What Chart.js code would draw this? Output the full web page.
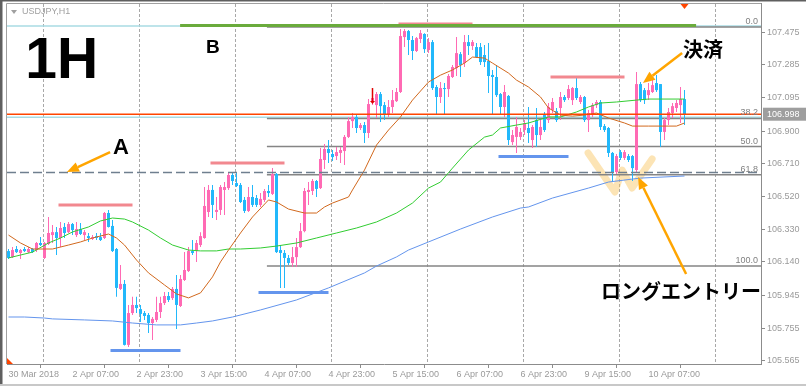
<!DOCTYPE html>
<html><head><meta charset="utf-8">
<script src="https://cdn.jsdelivr.net/npm/chart.js@4.4.1/dist/chart.umd.min.js"></script>
<style>html,body{margin:0;padding:0;background:#fff;overflow:hidden}canvas{display:block}</style>
</head><body>
<canvas id="chart" width="806" height="386"></canvas>
<script>
// ---------- DATA (USDJPY H1) ----------
const xTickIdx  = [0,16,32,48,64,80,96,112,128,144,160];
const xTickText = ['30 Mar 2018','2 Apr 07:00','2 Apr 23:00','3 Apr 15:00','4 Apr 07:00','4 Apr 23:00','5 Apr 15:00','6 Apr 07:00','6 Apr 23:00','9 Apr 15:00','10 Apr 07:00'];
const yTicks = [105.565,105.755,105.945,106.140,106.330,106.520,106.710,106.900,107.095,107.285,107.475];

const openP = [
106.203,106.168,106.215,106.192,106.215,106.197,106.215,106.209,106.250,106.163,
106.244,106.296,106.313,106.279,106.343,106.313,106.360,106.296,106.331,106.296,
106.290,106.273,106.290,106.284,106.279,106.424,106.349,106.215,105.983,106.012,
105.658,105.843,105.890,105.866,105.843,105.832,105.785,105.803,105.849,105.901,
105.942,105.930,105.983,105.884,106.035,106.087,106.203,106.203,106.238,106.279,
106.430,106.558,106.430,106.442,106.558,106.569,106.645,106.598,106.587,106.500,
106.436,106.517,106.511,106.471,106.500,106.552,106.535,106.651,106.209,106.192,
106.163,106.134,106.168,106.226,106.319,106.546,106.552,106.610,106.569,106.732,
106.796,106.767,106.755,106.773,106.784,106.866,106.958,106.982,106.918,106.935,
106.889,107.074,107.051,107.115,107.051,106.999,107.040,107.074,107.127,107.446,
107.481,107.429,107.365,107.435,107.464,107.371,107.417,107.156,107.098,107.150,
107.144,107.214,107.266,107.347,107.295,107.417,107.394,107.388,107.388,107.342,
107.307,107.226,107.214,107.115,107.040,107.104,106.836,106.866,106.866,106.906,
106.918,106.848,106.964,106.877,106.993,106.964,107.022,107.016,107.034,107.098,
107.092,107.080,107.150,107.069,107.098,106.964,106.993,107.051,107.069,106.929,
106.918,106.773,106.662,106.778,106.744,106.755,106.755,106.674,107.173,107.138,
107.109,107.127,107.179,107.173,106.895,106.964,107.005,107.034,107.051,107.086];
const highP = [
106.215,106.226,106.232,106.215,106.226,106.226,106.221,106.255,106.284,106.255,
106.401,106.355,106.343,106.372,106.366,106.372,106.366,106.372,106.366,106.325,
106.308,106.296,106.308,106.308,106.430,106.442,106.384,106.221,106.122,106.035,
105.890,105.937,105.937,105.890,105.855,105.843,105.820,105.937,105.937,105.965,
105.965,105.994,106.064,106.064,106.197,106.226,106.267,106.267,106.313,106.575,
106.587,106.587,106.517,106.587,106.604,106.656,106.662,106.662,106.598,106.517,
106.575,106.587,106.529,106.540,106.564,106.587,106.685,106.656,106.238,106.209,
106.180,106.226,106.279,106.366,106.569,106.604,106.622,106.616,106.802,106.825,
106.848,106.790,106.807,106.807,106.877,106.982,107.005,106.993,106.947,106.953,
107.086,107.109,107.127,107.127,107.069,107.080,107.138,107.150,107.493,107.493,
107.487,107.452,107.446,107.487,107.469,107.440,107.429,107.167,107.185,107.179,
107.231,107.284,107.446,107.359,107.458,107.458,107.429,107.411,107.411,107.400,
107.411,107.255,107.284,107.121,107.167,107.109,106.906,106.982,106.918,106.964,
107.040,106.935,107.034,106.964,107.011,107.063,107.092,107.034,107.127,107.109,
107.167,107.156,107.208,107.109,107.104,107.022,107.063,107.080,107.080,106.941,
106.924,106.778,106.767,106.790,106.790,106.767,106.761,107.243,107.185,107.150,
107.179,107.208,107.226,107.173,106.976,107.034,107.063,107.080,107.156,107.138];
const lowP = [
106.157,106.163,106.192,106.157,106.197,106.192,106.192,106.197,106.232,106.157,
106.238,106.250,106.180,106.226,106.279,106.308,106.296,106.284,106.296,106.267,
106.255,106.267,106.267,106.261,106.273,106.340,106.197,105.937,105.977,105.655,
105.646,105.832,105.843,105.791,105.803,105.727,105.687,105.791,105.814,105.890,
105.907,105.919,105.751,105.878,106.029,106.081,106.180,106.140,106.226,106.275,
106.401,106.395,106.384,106.413,106.413,106.558,106.587,106.575,106.482,106.424,
106.430,106.459,106.459,106.459,106.488,106.517,106.529,106.192,105.989,105.989,
106.122,106.110,106.110,106.221,106.313,106.471,106.529,106.517,106.564,106.680,
106.714,106.726,106.732,106.714,106.703,106.860,106.918,106.889,106.906,106.831,
106.860,107.051,106.976,106.953,106.964,106.982,107.005,107.069,107.121,107.388,
107.342,107.313,107.359,107.411,107.353,107.353,107.138,106.993,107.063,106.993,
107.098,107.208,107.220,107.214,107.272,107.342,107.371,107.324,107.284,107.272,
107.121,106.993,107.098,106.993,106.982,106.819,106.819,106.773,106.848,106.877,
106.831,106.802,106.807,106.848,106.895,106.947,107.005,106.953,106.964,107.069,
107.080,107.051,107.080,107.057,106.953,106.895,106.982,107.034,106.906,106.895,
106.749,106.604,106.651,106.732,106.732,106.720,106.610,106.662,107.069,107.057,
107.080,107.121,107.127,106.807,106.848,106.935,106.976,107.011,106.947,106.935];
const closeP = [
106.163,106.209,106.197,106.209,106.203,106.215,106.197,106.250,106.238,106.250,
106.308,106.313,106.279,106.337,106.308,106.360,106.325,106.331,106.302,106.313,
106.279,106.284,106.279,106.267,106.424,106.343,106.203,105.989,106.012,105.658,
105.843,105.890,105.872,105.838,105.826,105.785,105.809,105.849,105.901,105.942,
105.919,105.983,105.890,106.041,106.093,106.203,106.192,106.250,106.290,106.465,
106.558,106.471,106.442,106.575,106.575,106.645,106.610,106.581,106.488,106.436,
106.517,106.471,106.471,106.506,106.552,106.540,106.651,106.197,106.192,106.163,
106.134,106.168,106.226,106.319,106.552,106.558,106.610,106.564,106.738,106.796,
106.773,106.749,106.778,106.790,106.866,106.958,106.982,106.918,106.935,106.889,
107.057,107.092,107.115,107.045,106.993,107.040,107.080,107.127,107.452,107.481,
107.429,107.365,107.440,107.469,107.376,107.417,107.150,107.098,107.150,107.144,
107.220,107.272,107.353,107.284,107.417,107.394,107.417,107.330,107.301,107.301,
107.220,107.214,107.109,107.040,107.127,106.848,106.877,106.924,106.895,106.947,
106.889,106.924,106.877,106.924,106.906,107.040,107.069,106.964,107.098,107.080,
107.144,107.150,107.092,107.098,106.964,107.005,107.051,107.069,106.924,106.906,
106.773,106.662,106.755,106.744,106.778,106.732,106.685,107.173,107.080,107.080,
107.138,107.167,107.138,106.895,106.964,107.011,107.045,107.063,107.086,106.998];

// moving averages (bar index, price)
const maFastX = [0,3,6,11,15,18,21,25,27,29,32,35,39,42,45,48,51,53,55,58,61,65,67,70,74,77,79,81,85,86,89,92,95,98,101,105,108,111,114,116,119,121,125,127,130,133,135,138,141,144,147,150,154,156,160,167,169];
const maFastY = [106.296,106.250,106.215,106.215,106.238,106.256,106.279,106.302,106.279,106.238,106.151,106.076,106.006,105.954,105.931,105.960,106.053,106.140,106.209,106.308,106.401,106.500,106.488,106.447,106.424,106.424,106.459,106.482,106.517,106.558,106.674,106.819,106.906,106.982,107.080,107.185,107.225,107.255,107.295,107.330,107.324,107.295,107.237,107.196,107.156,107.098,107.034,106.993,106.987,106.993,107.005,106.976,106.947,106.929,106.929,106.929,106.947];
const maMidX = [0,3,6,10,13,16,20,23,26,29,31,35,38,41,45,48,52,55,58,63,67,72,77,82,87,92,97,101,105,108,111,115,119,121,123,127,130,135,138,142,145,148,152,157,160,169];
const maMidY = [106.163,106.180,106.197,106.250,106.279,106.314,106.343,106.378,106.395,106.389,106.372,106.325,106.279,106.238,106.209,106.204,106.204,106.215,106.215,106.221,106.232,106.250,106.279,106.308,106.337,106.372,106.424,106.482,106.569,106.604,106.685,106.790,106.865,106.877,106.918,106.935,106.947,106.982,106.982,107.011,107.040,107.063,107.069,107.080,107.086,107.086];
const maSlowX = [0,4,9,11,19,26,31,37,43,47,51,56,63,72,80,89,92,97,100,105,113,121,128,130,136,145,150,158,169];
const maSlowY = [105.820,105.820,105.814,105.809,105.803,105.797,105.785,105.774,105.774,105.785,105.797,105.820,105.861,105.919,105.989,106.076,106.116,106.169,106.209,106.256,106.331,106.401,106.453,106.459,106.511,106.569,106.604,106.627,106.639];

// drawn levels
const resistLevel = [106.471,106.714,107.522,107.214];
const resistFrom  = [12.5,50.5,97.5,135.5];
const resistTo    = [31,69,116,154];
const supportLevel = [105.626,105.962,106.752];
const supportFrom  = [25.5,62.5,122.5];
const supportTo    = [43,80,140];
const fibHigh = 107.504, fibLow = 106.116, fibStart = 64.6;
const fibRatios = [0,38.2,50,61.8,100];
const targetLevel = 107.513, targetFrom = 42.9, targetTo = 171.9;
const levelA = 106.660;
const blueLevels = [107.510,106.980];

// annotation anchors (bar index, price)
const wIdx = [144.9,151.6,153.4,155.9,160.9];
const wPrice = [106.773,106.546,106.674,106.569,106.738];
const arrowFromIdx = [25.4,168.4,169.4], arrowFromP = [106.778,107.353,106.070];
const arrowToIdx   = [14.6,158.6,157.4], arrowToP   = [106.662,107.179,106.633];
const noteText = ['1H','B','A','決済','ロングエントリー'];
const noteIdx  = [4.2,49.4,26.1,168.6,148.1];
const notePrice= [107.208,107.353,106.767,107.376,105.971];
const sellMarkIdx = 91, sellMarkTop = 107.150, sellMarkBottom = 107.057;

// ---------- CHART ----------
const X_MIN = -0.375, X_MAX = 188.125;
const gridIdx = [8.625,32.625,56.625,80.625,104.625,128.625,152.625,176.625];
const bull = '#ff6ab4', bear = '#22b8fb';
const candleColors = closeP.map((c,i)=> c >= openP[i] ? bull : bear);
const idx = openP.map((_,i)=>i);
const LAT = '"Liberation Sans", Arial, sans-serif';
Chart.defaults.font.family = LAT;

function hline(level, from, to, color, width, order, dash){
  return {type:'line', xAxisID:'x', yAxisID:'y', data:[{x:from,y:level},{x:to,y:level}], borderColor:color, borderWidth:width,
    borderDash:dash||[], pointRadius:0, fill:false, order:order, borderCapStyle:'butt', tension:0};
}
function maLine(xs, ys, color){
  return {type:'line', xAxisID:'x', yAxisID:'y', data:xs.map((v,k)=>({x:v,y:ys[k]})), borderColor:color, borderWidth:1,
    pointRadius:0, fill:false, order:4, tension:0};
}
const fibLevel = r => fibHigh - (fibHigh - fibLow) * r / 100;

const datasets = [];
datasets.push({type:'bar', xAxisID:'x', yAxisID:'y', data: idx.map(i=>({x:i, y:[openP[i], closeP[i]]})), backgroundColor:candleColors,
  barThickness:3, grouped:false, minBarLength:1, borderWidth:0, inflateAmount:0, order:6});
datasets.push({type:'bar', xAxisID:'x', yAxisID:'y', data: idx.map(i=>({x:i, y:[lowP[i], highP[i]]})), backgroundColor:candleColors,
  barThickness:1, grouped:false, borderWidth:0, inflateAmount:0, order:7});
datasets.push(maLine(maFastX, maFastY, '#d2691e'));
datasets.push(maLine(maMidX, maMidY, '#32cd32'));
datasets.push(maLine(maSlowX, maSlowY, '#6495ed'));
fibRatios.forEach(r => datasets.push(hline(fibLevel(r), fibStart, X_MAX, '#858585', 1.5, 9)));
blueLevels.forEach(l => datasets.push(hline(l, X_MIN, X_MAX, '#a9dbe3', 1.5, 10)));
datasets.push(hline(closeP[closeP.length-1], X_MIN, X_MAX, '#ff4500', 1.6, 2));
datasets.push(hline(levelA, X_MIN, X_MAX, '#6f7f8f', 1.5, 2, [9,4]));
resistLevel.forEach((l,k)=> datasets.push(hline(l, resistFrom[k], resistTo[k], '#f2888f', 3, 2)));
supportLevel.forEach((l,k)=> datasets.push(hline(l, supportFrom[k], supportTo[k], '#6495ed', 3, 2)));
datasets.push(hline(targetLevel, targetFrom, targetTo, '#6aab3c', 3, 1));

function arrow(ctx, x1,y1,x2,y2,color,w,hl,hw){
  const a = Math.atan2(y2-y1, x2-x1);
  const bx = x2 - hl*Math.cos(a), by = y2 - hl*Math.sin(a);
  ctx.strokeStyle = color; ctx.lineWidth = w; ctx.lineCap='butt';
  ctx.beginPath(); ctx.moveTo(x1,y1); ctx.lineTo(bx,by); ctx.stroke();
  ctx.fillStyle = color; ctx.beginPath(); ctx.moveTo(x2,y2);
  ctx.lineTo(bx + hw/2*Math.sin(a), by - hw/2*Math.cos(a));
  ctx.lineTo(bx - hw/2*Math.sin(a), by + hw/2*Math.cos(a));
  ctx.closePath(); ctx.fill();
}

const deco = {
  id:'deco',
  beforeDraw(chart){ const c=chart.ctx; c.save(); c.fillStyle='#fff'; c.fillRect(0,0,chart.width,chart.height); c.restore(); },
  beforeDatasetsDraw(chart){
    const {ctx, chartArea:a, scales:{x,y}} = chart;
    ctx.save();
    // dashed vertical grid
    ctx.strokeStyle='#a8a8a8'; ctx.lineWidth=1; ctx.setLineDash([3,2]);
    gridIdx.forEach(v=>{ const gx = Math.round(x.getPixelForValue(v))+0.5; if (gx < a.right){ ctx.beginPath(); ctx.moveTo(gx, a.top+1); ctx.lineTo(gx, a.bottom); ctx.stroke(); } });
    ctx.setLineDash([]);
    // W highlight
    ctx.strokeStyle='rgba(248,196,90,0.45)'; ctx.lineWidth=7; ctx.lineJoin='round'; ctx.lineCap='round';
    ctx.beginPath();
    wIdx.forEach((v,k)=>{ const px=x.getPixelForValue(v), py=y.getPixelForValue(wPrice[k]); k?ctx.lineTo(px,py):ctx.moveTo(px,py); });
    ctx.stroke(); ctx.restore();
  },
  afterDraw(chart){
    const {ctx, chartArea:a, scales:{x,y}} = chart;
    const X = v => x.getPixelForValue(v), Y = v => y.getPixelForValue(v);
    ctx.save();
    // window / chart frames
    ctx.fillStyle='#5f5f5f'; ctx.fillRect(0,0,chart.width,1.5); ctx.fillRect(0,0,2.5,chart.height);
    ctx.fillStyle='#c8c8c8'; ctx.fillRect(0,chart.height-2,chart.width,2);
    ctx.strokeStyle='#a0a0a0'; ctx.lineWidth=1; ctx.beginPath();
    ctx.moveTo(a.left-0.5, a.bottom); ctx.lineTo(a.left-0.5, a.top+0.5); ctx.lineTo(a.right, a.top+0.5); ctx.stroke();
    // title
    ctx.fillStyle='#a0a0a0'; ctx.font='9px '+LAT; ctx.textBaseline='middle'; ctx.textAlign='left';
    ctx.fillText('USDJPY,H1', a.left+15, a.top+9);
    ctx.beginPath(); ctx.moveTo(a.left+4, a.top+7); ctx.lineTo(a.left+10, a.top+7); ctx.lineTo(a.left+7, a.top+11); ctx.closePath(); ctx.fill();
    // fib labels
    ctx.fillStyle='#808080'; ctx.textAlign='right'; ctx.textBaseline='bottom';
    fibRatios.forEach(r => ctx.fillText(r.toFixed(1), a.right-3, Y(fibLevel(r))-1));
    // arrows
    arrowFromIdx.forEach((v,k)=> arrow(ctx, X(v), Y(arrowFromP[k]), X(arrowToIdx[k]), Y(arrowToP[k]), '#ffa500', 2.5, 12, 10));
    // notes
    ctx.fillStyle='#000'; ctx.textAlign='left';
    const fonts = ['bold 57px '+LAT, 'bold 19px '+LAT, 'bold 22px '+LAT, 'bold 20px "Noto Sans CJK JP"', 'bold 20px "Noto Sans CJK JP"'];
    const bases = ['alphabetic','alphabetic','alphabetic','middle','middle'];
    noteText.forEach((t,k)=>{ ctx.font=fonts[k]; ctx.textBaseline=bases[k]; ctx.fillText(t, X(noteIdx[k]), Y(notePrice[k])); });
    // markers
    ctx.fillStyle='#ff4500';
    const lx = X(closeP.length-1);
    ctx.beginPath(); ctx.moveTo(lx-4, a.top+1); ctx.lineTo(lx+4, a.top+1); ctx.lineTo(lx, a.top+6); ctx.closePath(); ctx.fill();
    ctx.beginPath(); ctx.moveTo(a.left, a.bottom-6); ctx.lineTo(a.left, a.bottom); ctx.lineTo(a.left+6, a.bottom); ctx.closePath(); ctx.fill();
    const sx = Math.round(X(sellMarkIdx))-0.5;
    ctx.strokeStyle='#e00000'; ctx.lineWidth=1.5; ctx.beginPath(); ctx.moveTo(sx, Y(sellMarkTop)); ctx.lineTo(sx, Y(sellMarkBottom)-2); ctx.stroke();
    ctx.fillStyle='#e00000'; ctx.beginPath(); ctx.moveTo(sx-2.5, Y(sellMarkBottom)-3); ctx.lineTo(sx+2.5, Y(sellMarkBottom)-3); ctx.lineTo(sx, Y(sellMarkBottom)); ctx.closePath(); ctx.fill();
    // last price box
    const pv = closeP[closeP.length-1], py = Y(pv);
    ctx.fillStyle='#9e9e9e'; ctx.fillRect(a.right+2, py-6.5, chart.width-a.right-2, 13);
    ctx.fillStyle='#fff'; ctx.font='9px '+LAT; ctx.textAlign='left'; ctx.textBaseline='middle';
    ctx.fillText(pv.toFixed(3), a.right+6, py);
    ctx.restore();
  }
};

new Chart(document.getElementById('chart'), {
  type:'bar',
  data:{ datasets },
  options:{
    responsive:false, animation:false, devicePixelRatio:1, events:[],
    layout:{padding:{left:7, top:3, right:0, bottom:0}},
    plugins:{legend:{display:false}, tooltip:{enabled:false}},
    scales:{
      x:{ type:'linear', axis:'x', position:'bottom', min:X_MIN, max:X_MAX, offset:false,
        grid:{display:true, drawOnChartArea:false, drawTicks:true, tickLength:4, color:'#8c8c8c'},
        border:{display:true, color:'#8c8c8c'},
        ticks:{autoSkip:false, maxRotation:0, align:'start', padding:1, color:'#9a9a9a', font:{size:9, family:LAT},
          callback:(v)=>{ const k = xTickIdx.indexOf(v); return k>=0 ? xTickText[k] : ''; }},
        afterBuildTicks:(s)=>{ s.ticks = xTickIdx.map(v=>({value:v})); },
        afterFit:(s)=>{ s.height = 22; s.paddingLeft = 0; s.paddingRight = 0; }
      },
      y:{ type:'linear', position:'right', min:105.547, max:107.644, offset:false,
        grid:{display:true, drawOnChartArea:false, drawTicks:true, tickLength:4, color:'#8c8c8c'},
        border:{display:true, color:'#8c8c8c'},
        ticks:{padding:2, color:'#9a9a9a', font:{size:9, family:LAT}, callback:(v)=> Number(v).toFixed(3)},
        afterBuildTicks:(s)=>{ s.ticks = yTicks.map(v=>({value:v})); },
        afterFit:(s)=>{ s.width = 45; s.paddingTop = 0; s.paddingBottom = 0; }
      }
    }
  },
  plugins:[deco]
});
</script>
</body></html>
